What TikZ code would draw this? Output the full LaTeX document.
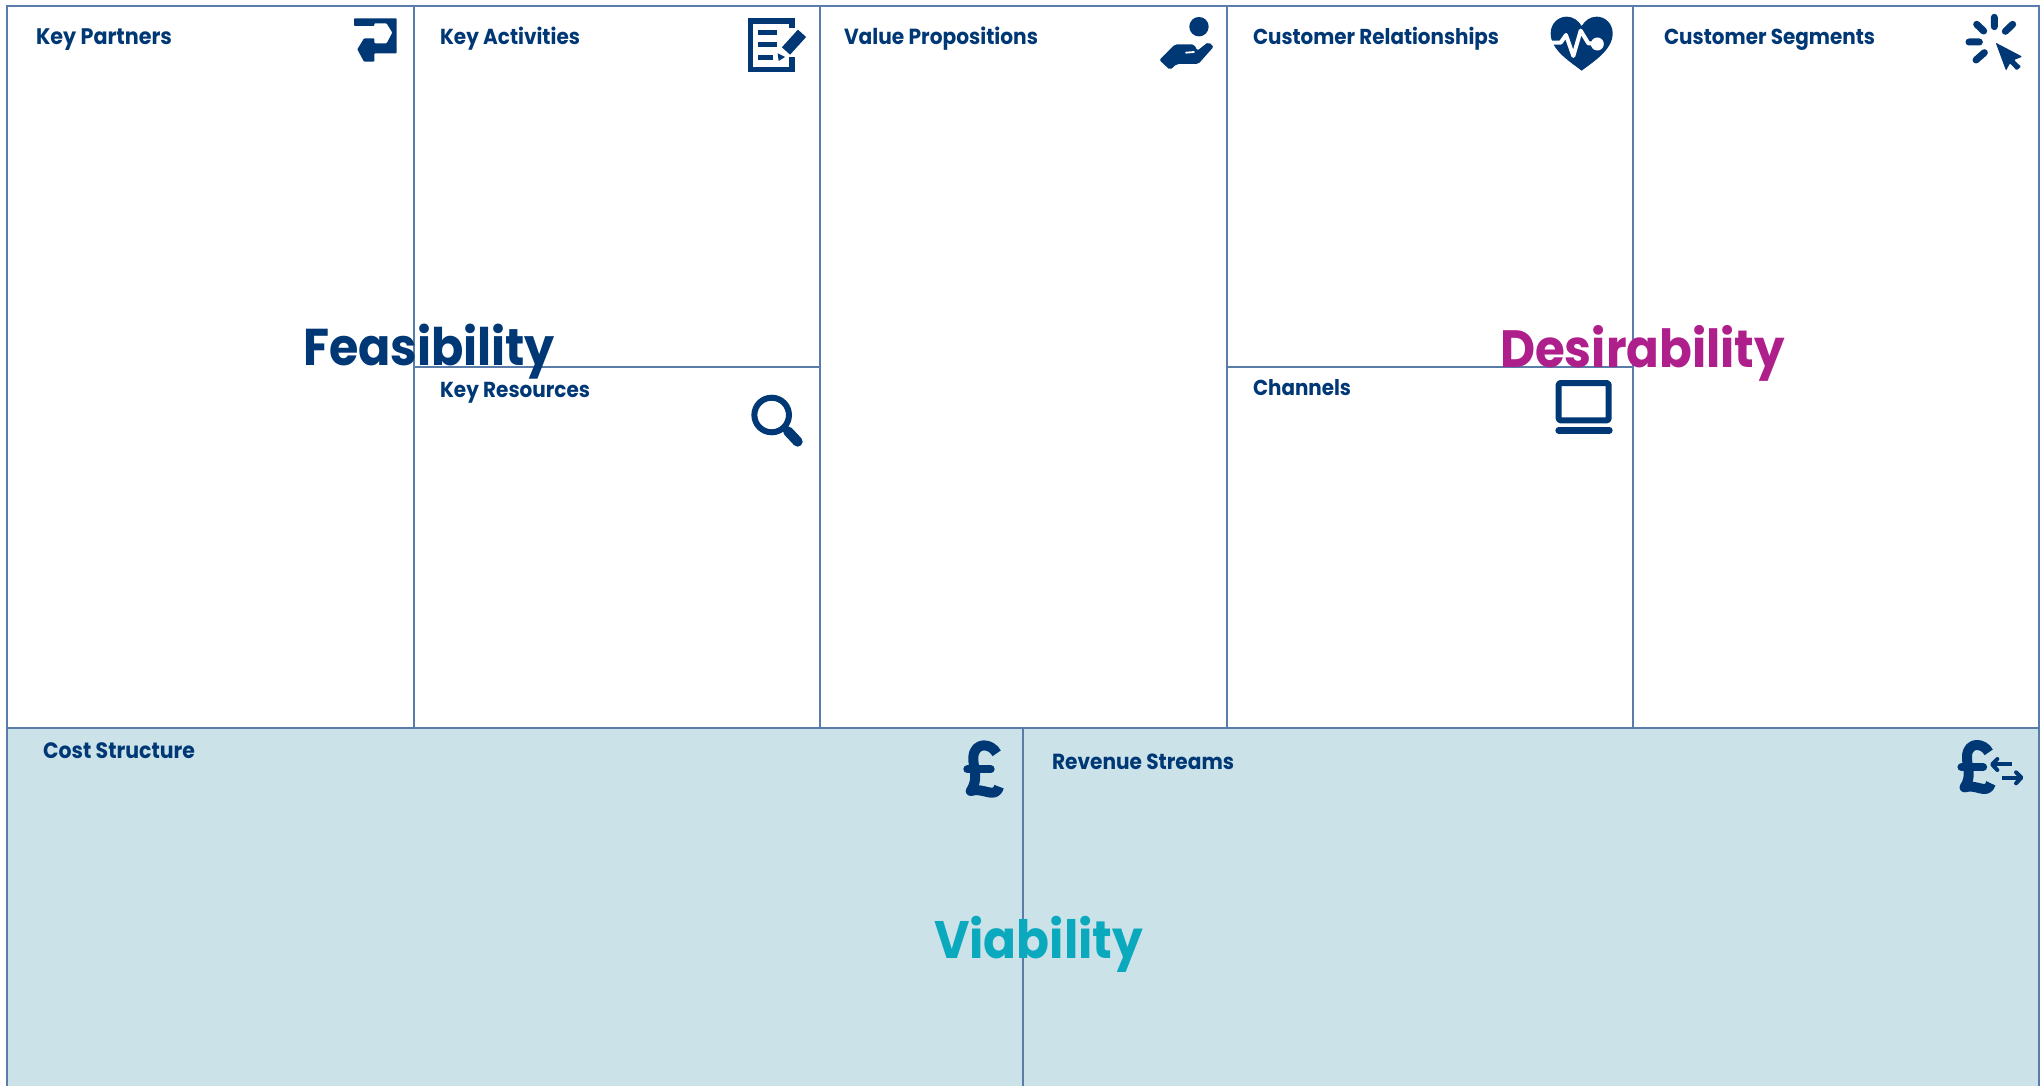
\documentclass[tikz,border=0pt]{standalone}
\usepackage{fontspec}
\usepackage{graphicx}
\setmainfont{Poppins}[FakeStretch=.92]
\definecolor{navy}{HTML}{003876}
\definecolor{rule}{HTML}{5A7CA9}
\definecolor{band}{HTML}{CCE2E9}
\definecolor{desir}{HTML}{AE1F8C}
\definecolor{viab}{HTML}{0BA9BD}
\tikzset{
  cellline/.style={draw=rule,line width=1.3pt},
  head/.style={anchor=base west,inner sep=0pt,outer sep=0pt,text=navy,font=\bfseries},
  big/.style={anchor=base west,inner sep=0pt,outer sep=0pt,font=\bfseries},
  iconfill/.style={fill=navy,draw=none},
  iconline/.style={draw=navy,line cap=round,line join=round},
  zoomed/.style={x=.33333pt,y=-.33333pt,shift={#1}}
}
\newcommand{\fitw}[2]{\resizebox{#1pt}{!}{#2}}
\newcommand{\poundglyph}{%
  \draw[iconline,line width=10pt,line cap=butt]
    (170,85) .. controls (155,55) and (105,48) .. (100,95)
    .. controls (98,130) and (118,160) .. (92,198)
    .. controls (130,185) and (165,225) .. (177,185);
  \draw[iconline,line width=8pt] (82,133) -- (152,133);
}
\begin{document}
\begin{tikzpicture}[x=1pt,y=-1pt]
\useasboundingbox (0,0) rectangle (2043,1086);
\fill[white] (0,0) rectangle (2043,1086);
\fill[band] (7,728) rectangle (2039,1086);
% cell rules
\draw[cellline] (7,1086) -- (7,6) -- (2039,6) -- (2039,1086);
\draw[cellline] (7,728) -- (2039,728);
\draw[cellline] (414,6) -- (414,728);
\draw[cellline] (820,6) -- (820,728);
\draw[cellline] (1227,6) -- (1227,728);
\draw[cellline] (1633,6) -- (1633,728);
\draw[cellline] (414,367) -- (820,367);
\draw[cellline] (1227,367) -- (1633,367);
\draw[cellline] (1023,728) -- (1023,1086);
% headings
\node[head] (kp) at (36,44.5) {\fitw{136}{Key Partners}};
\node[head] (ka) at (440,44.5) {\fitw{140}{Key Activities}};
\node[head] (vp) at (844,44.5) {\fitw{194}{Value Propositions}};
\node[head] (cr) at (1253,44.5) {\fitw{246}{Customer Relationships}};
\node[head] (cs) at (1664,44.5) {\fitw{211}{Customer Segments}};
\node[head] (kr) at (440,397) {\fitw{150}{Key Resources}};
\node[head] (ch) at (1253,395) {\fitw{98}{Channels}};
\node[head] (cost) at (43,758) {\fitw{152}{Cost Structure}};
\node[head] (rev) at (1052,769.5) {\fitw{182}{Revenue Streams}};
% large labels
\node[big,text=navy] (fea) at (303,365) {\fitw{252}{Feasibility}};
\node[big,text=desir] (des) at (1500,367) {\fitw{285}{Desirability}};
\node[big,text=viab] (via) at (934,958) {\fitw{209}{Viability}};
% partners icon
\begin{scope}[zoomed={(345pt,-10pt)}]
\fill[iconfill,rounded corners=.8pt] (27,25) -- (155,25) -- (155,130) -- (88,130) -- (88,155) -- (57,155) -- (37,118) -- (57,85) -- (88,85) -- (88,100) -- (125,100) -- (142,68) -- (125,40) -- (88,40) -- (88,48) -- (27,48) -- cycle;
\end{scope}
% activities icon
\begin{scope}[zoomed={(340pt,0pt)}]
\draw[iconline,line width=5.4pt,line cap=butt,line join=miter] (1356,85) -- (1356,63) -- (1232,63) -- (1232,208) -- (1356,208) -- (1356,170);
\draw[iconline,line width=4.6pt,line cap=butt] (1255,98) -- (1312,98) (1255,134) -- (1312,134) (1255,172) -- (1298,172);
\draw[iconline,line width=11pt,line cap=butt] (1386,100) -- (1338,153);
\fill[iconfill] (1313,160) -- (1335,171) -- (1316,183) -- cycle;
\end{scope}
% value icon
\begin{scope}[zoomed={(1150pt,-10pt)}]
\fill[iconfill] (147,50) circle[radius=9.7pt];
\fill[iconfill,rounded corners=2pt] (28,150) -- (75,103) -- (132,103) -- (142,122) -- (175,96) -- (191,110) -- (145,162) -- (80,162) -- (60,180) -- cycle;
\draw[white,line width=1.8pt,line cap=round] (108,128) -- (132,126);
\end{scope}
% heart
\begin{scope}[zoomed={(1140pt,0pt)}]
\fill[iconfill] (1325,212) .. controls (1290,185) and (1232,150) .. (1232,100)
  .. controls (1232,70) and (1255,50) .. (1280,50)
  .. controls (1300,50) and (1315,62) .. (1325,78)
  .. controls (1335,62) and (1350,50) .. (1370,50)
  .. controls (1395,50) and (1418,70) .. (1418,100)
  .. controls (1418,150) and (1360,185) .. (1325,212) -- cycle;
\draw[white,line width=4pt,line join=round,line cap=butt] (1232,128) -- (1262,128) -- (1278,105) -- (1300,168) -- (1322,92) -- (1345,130) -- (1368,130);
\fill[white] (1372,132) circle[radius=6.5pt];
\end{scope}
% segments icon
\begin{scope}[zoomed={(1900pt,0pt)}]
\draw[iconline,line width=7pt] (283,52) -- (283,80) (230,73) -- (251,93) (338,73) -- (316,94) (207,126) -- (238,126) (228,180) -- (253,158);
\fill[iconfill,rounded corners=1pt] (287,128) -- (367,170) -- (342,180) -- (363,200) -- (350,211) -- (330,190) -- (318,212) -- cycle;
\end{scope}
% resources icon
\begin{scope}[zoomed={(700pt,-370pt)}]
\draw[draw=navy,line width=6pt] (215,135) circle[radius=17.3pt];
\draw[iconline,line width=10pt] (264,184) -- (293,215);
\end{scope}
% channels icon
\begin{scope}[zoomed={(1520pt,-330pt)}]
\draw[iconline,line width=6pt,rounded corners=1.5pt] (116,159) rectangle (266,271);
\draw[iconline,line width=6.6pt] (116,301) -- (268,301);
\end{scope}
% cost icon
\begin{scope}[zoomed={(940pt,-725pt)}]
\poundglyph
\end{scope}
% revenue icon
\begin{scope}[x=.31pt,y=-.31pt,shift={(1936pt,-726pt)}]
\poundglyph
\end{scope}
\begin{scope}[zoomed={(1940pt,-725pt)}]
\draw[iconline,line width=4pt,line cap=butt] (160,118) -- (215,118) (185,158) -- (240,158);
\draw[iconline,line width=4pt] (172,102) -- (156,118) -- (172,135) (228,142) -- (244,158) -- (228,175);
\end{scope}
\end{tikzpicture}
\end{document}
